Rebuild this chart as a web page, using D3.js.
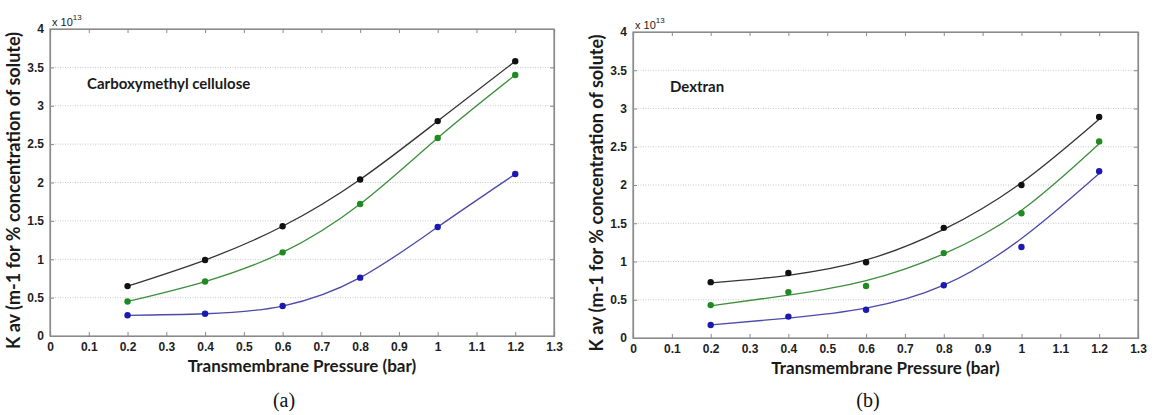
<!DOCTYPE html>
<html><head><meta charset="utf-8">
<script src="https://cdn.jsdelivr.net/npm/d3@7/dist/d3.min.js"></script>
<style>body{margin:0;background:#fff}svg{display:block}</style>
</head><body>
<svg id="c" width="1153" height="415"></svg>
<script>
// ---- data ----
const pressure = [0.2, 0.4, 0.6, 0.8, 1.0, 1.2];
const xTicks = [0,0.1,0.2,0.3,0.4,0.5,0.6,0.7,0.8,0.9,1,1.1,1.2,1.3];
const yTicks = [0,0.5,1,1.5,2,2.5,3,3.5,4];
// Panel (a) Carboxymethyl cellulose (x 10^13)
const cmcBlack = [0.65, 0.99, 1.43, 2.04, 2.80, 3.58];
const cmcGreen = [0.45, 0.71, 1.09, 1.72, 2.58, 3.40];
const cmcBlue  = [0.27, 0.29, 0.39, 0.76, 1.42, 2.11];
// Panel (b) Dextran (x 10^13) measured points
const dexBlack = [0.73, 0.85, 0.99, 1.44, 2.00, 2.89];
const dexGreen = [0.43, 0.60, 0.68, 1.11, 1.63, 2.57];
const dexBlue  = [0.17, 0.28, 0.37, 0.69, 1.19, 2.18];
// Panel (b) fitted curves, read at the same pressures
const dexBlackFit = [0.72, 0.82, 1.02, 1.42, 2.03, 2.86];
const dexGreenFit = [0.42, 0.56, 0.75, 1.10, 1.67, 2.54];
const dexBlueFit  = [0.17, 0.26, 0.39, 0.69, 1.30, 2.15];

const colors = {black:"#111111", green:"#1f8a1f", blue:"#1a1ab0"};
const lineColors = {black:"#333333", green:"#3c8f3c", blue:"#4a4aa8"};

const svg = d3.select("#c");

function panel(opt){
  const {left,right,top,bottom,title,series,caption,capX} = opt;
  const x = d3.scaleLinear().domain([0,1.3]).range([left,right]);
  const y = d3.scaleLinear().domain([0,4]).range([bottom,top]);
  const g = svg.append("g");
  // grid
  g.selectAll(".grid").data(yTicks.filter(t=>t>0&&t<4)).join("line")
    .attr("x1",left).attr("x2",right).attr("y1",d=>y(d)).attr("y2",d=>y(d))
    .attr("stroke","#c8c8c8").attr("stroke-width",1).attr("stroke-dasharray","1,1.5");
  // box
  g.append("rect").attr("x",left).attr("y",top).attr("width",right-left).attr("height",bottom-top)
    .attr("fill","none").attr("stroke","#8a8a8a").attr("stroke-width",1.2);
  // axes
  const ax = d3.axisBottom(x).tickValues(xTicks).tickSize(-4).tickFormat(d3.format("~g")).tickPadding(6);
  const axT = d3.axisTop(x).tickValues(xTicks).tickSize(-4).tickFormat("");
  const ay = d3.axisLeft(y).tickValues(yTicks).tickSize(-4).tickFormat(d3.format("~g")).tickPadding(6);
  const ayR = d3.axisRight(y).tickValues(yTicks).tickSize(-4).tickFormat("");
  [[ax,`translate(0,${bottom})`],[axT,`translate(0,${top})`],[ay,`translate(${left},0)`],[ayR,`translate(${right},0)`]].forEach(([a,t])=>{
    const gg = g.append("g").attr("transform",t).call(a)
      .attr("font-family","Liberation Sans, Arial, sans-serif").attr("font-size",12);
    gg.select(".domain").attr("stroke","#8a8a8a").attr("stroke-width",1.2);
    gg.selectAll(".tick line").attr("stroke","#8a8a8a");
    gg.selectAll("text").attr("font-weight","bold").attr("fill","#1e1e1e");
  });
  // exponent
  const ex = g.append("text").attr("x",left+2).attr("y",top-3)
    .attr("font-family","Liberation Sans, Arial, sans-serif").attr("font-size",11).attr("fill","#222");
  ex.append("tspan").text("x 10");
  ex.append("tspan").attr("dy",-6).attr("font-size",8).text("13");
  // labels
  g.append("text").attr("x",(left+right)/2).attr("y",bottom+36).attr("text-anchor","middle")
    .attr("font-family","Lato, Open Sans, sans-serif").attr("font-weight","bold").attr("font-size",17)
    .attr("fill","#1a1a1a").text("Transmembrane Pressure (bar)");
  g.append("text").attr("transform",`translate(${left-30},${(top+bottom)/2+8}) rotate(-90)`)
    .attr("text-anchor","middle").attr("font-family","Lato, Open Sans, sans-serif").attr("font-weight","bold")
    .attr("font-size",18).attr("fill","#1a1a1a").text("K av (m-1 for % concentration of solute)");
  g.append("text").attr("x",left+37).attr("y",top+60)
    .attr("font-family","Lato, Open Sans, sans-serif").attr("font-weight","bold").attr("font-size",15)
    .attr("fill","#1a1a1a").text(title);
  g.append("text").attr("x",capX).attr("y",407).attr("text-anchor","middle")
    .attr("font-family","Liberation Serif, Times New Roman, serif").attr("font-size",20)
    .attr("fill","#111").text(caption);
  // series
  const line = d3.line().x((d,i)=>x(pressure[i])).y(d=>y(d)).curve(d3.curveNatural);
  series.forEach(s=>{
    g.append("path").attr("d",line(s.fit)).attr("fill","none")
      .attr("stroke",lineColors[s.c]).attr("stroke-width",1.3);
    g.selectAll(null).data(s.pts).join("circle")
      .attr("cx",(d,i)=>x(pressure[i])).attr("cy",d=>y(d)).attr("r",3.2).attr("fill",colors[s.c]);
  });
}

panel({left:50,right:554,top:29,bottom:336,title:"Carboxymethyl cellulose",caption:"(a)",capX:284,
  series:[{pts:cmcBlack,fit:cmcBlack,c:"black"},{pts:cmcGreen,fit:cmcGreen,c:"green"},{pts:cmcBlue,fit:cmcBlue,c:"blue"}]});
panel({left:633,right:1138,top:32,bottom:338,title:"Dextran",caption:"(b)",capX:868,
  series:[{pts:dexBlack,fit:dexBlackFit,c:"black"},{pts:dexGreen,fit:dexGreenFit,c:"green"},{pts:dexBlue,fit:dexBlueFit,c:"blue"}]});
</script>
</body></html>
